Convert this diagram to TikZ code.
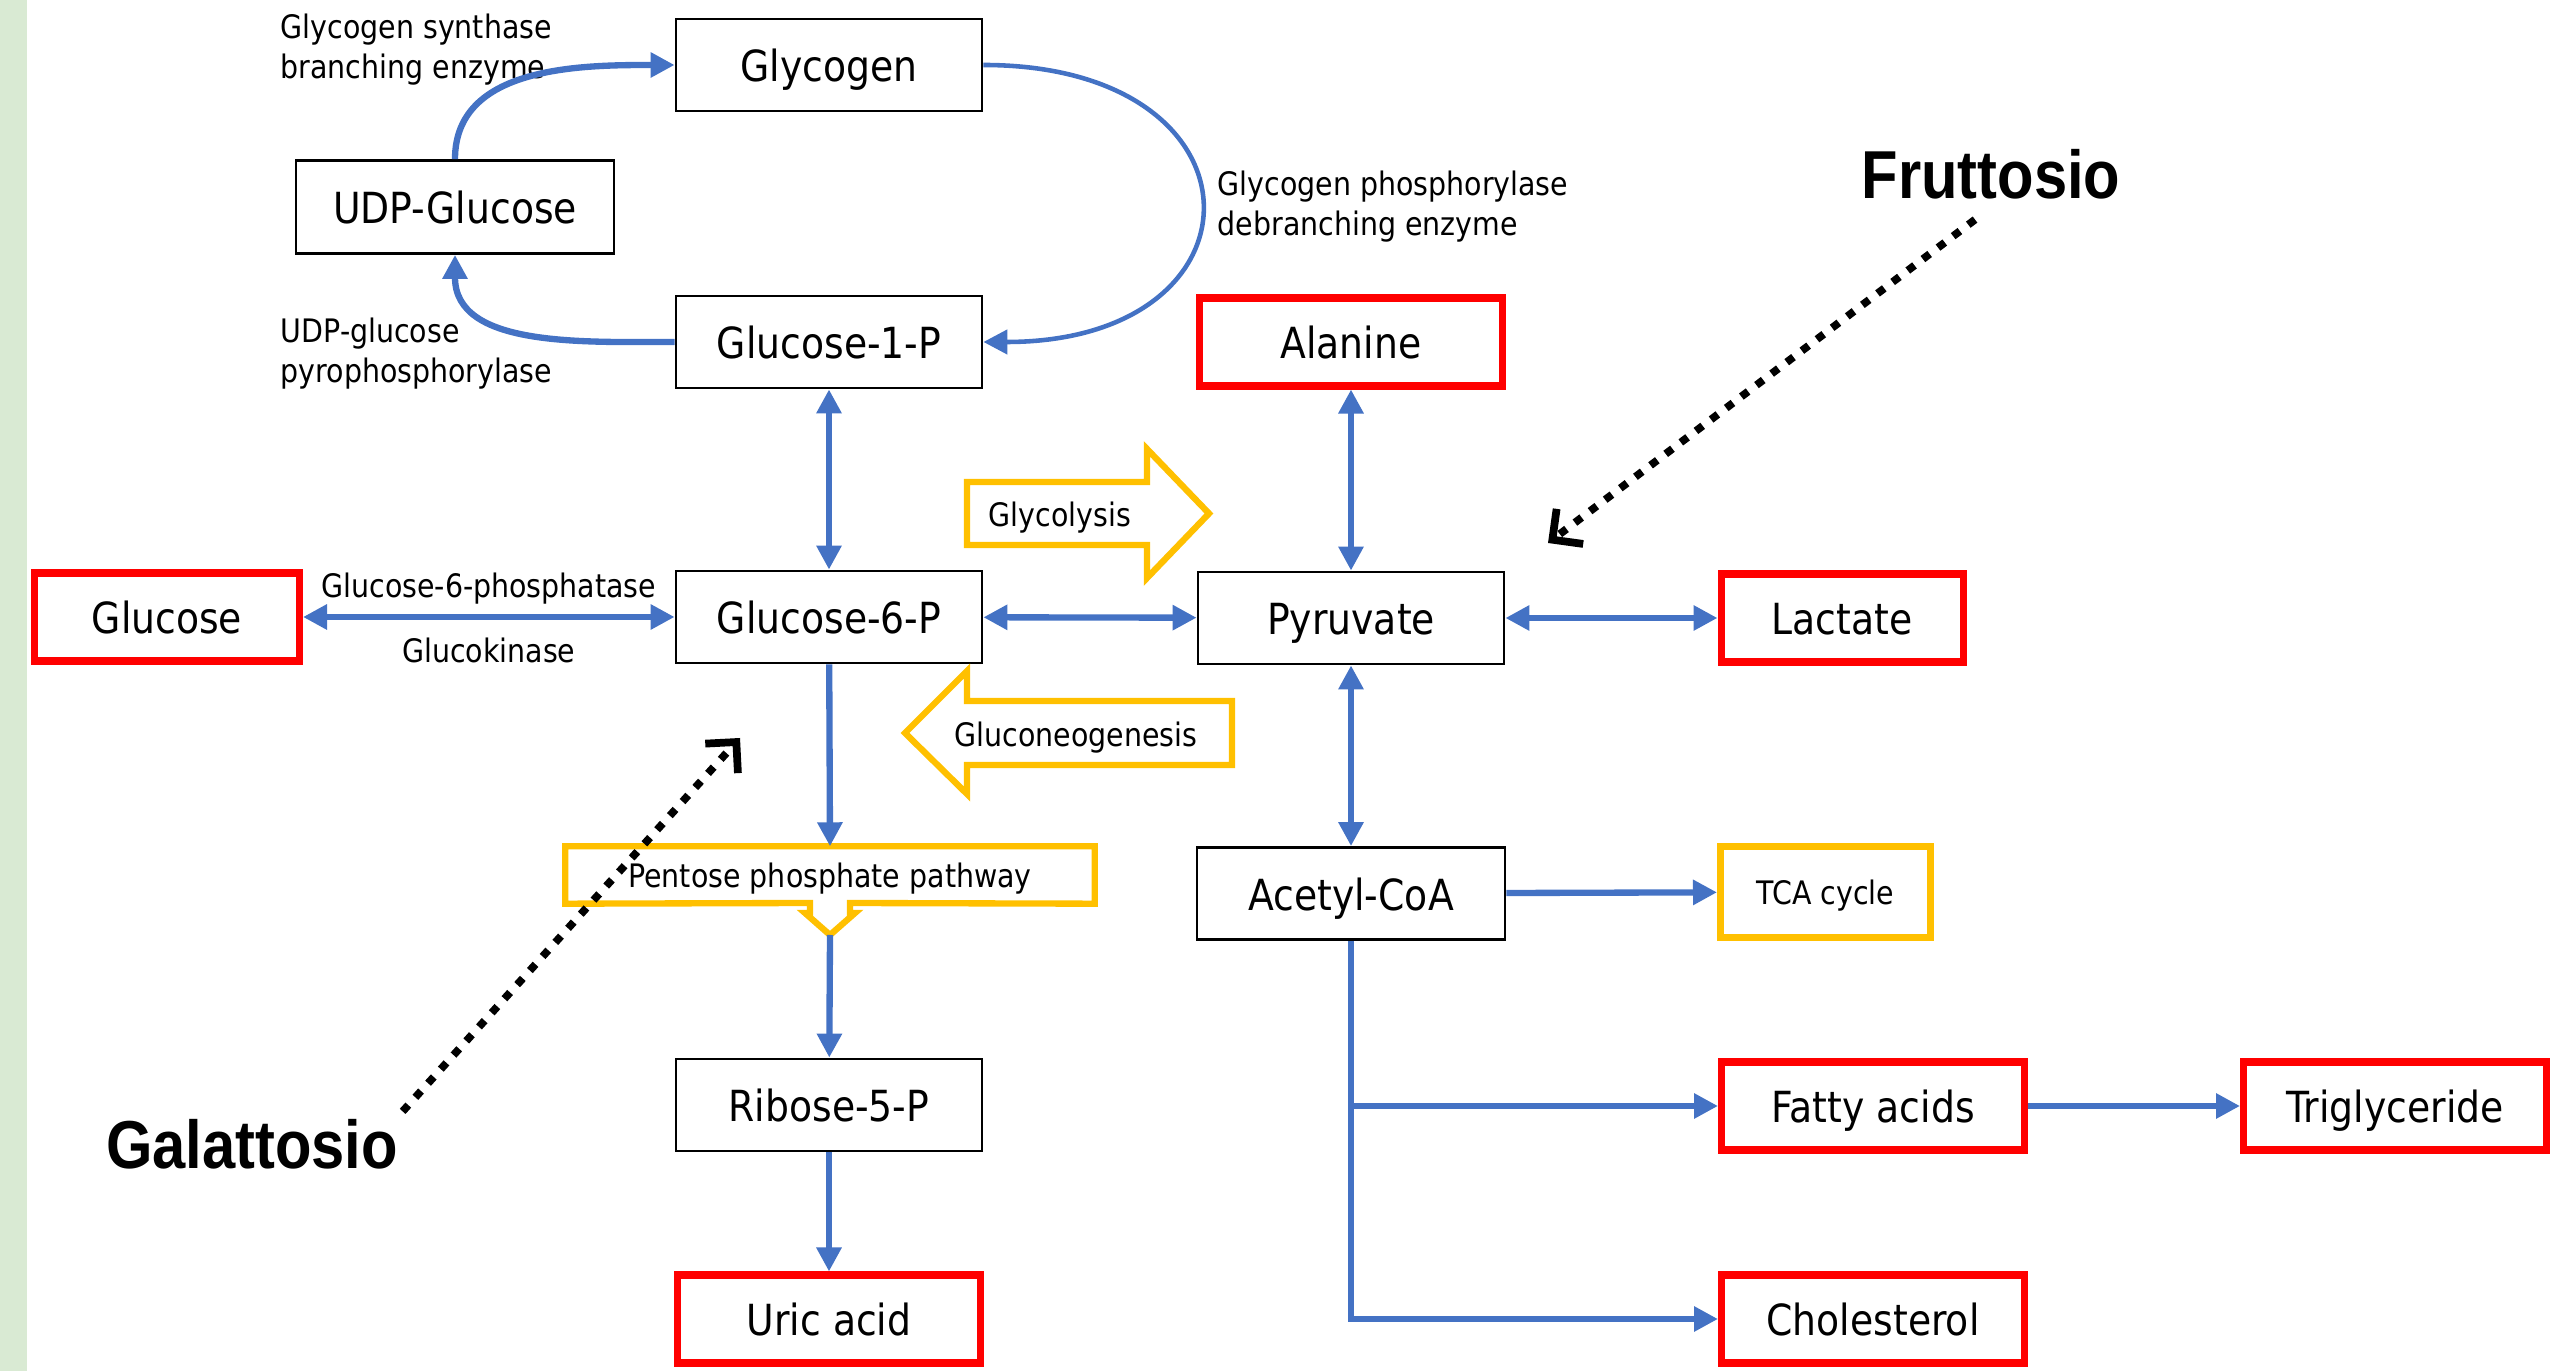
\documentclass[tikz,border=0pt]{standalone}
\usepackage{fontspec}
\setmainfont{DejaVu Sans}[FakeStretch=0.88]
\newfontfamily\sugarfont{Liberation Sans}[FakeStretch=0.88]
\usepackage{tikz}
\usetikzlibrary {arrows.meta}
\definecolor{pathblue}{HTML}{4472C4}
\definecolor{boxred}{HTML}{FF0000}
\definecolor{boxyellow}{HTML}{FFC000}
\definecolor{stripgreen}{HTML}{D9EAD3}

\begin{document}
\begin{tikzpicture}
        %style
        \tikzset{box/.style = {shape=rectangle, draw=black, line width=0.8pt, inner sep=0, minimum width=3.06cm, minimum height=0.92cm, text height=9.6pt, text depth=0pt, font=\fontsize{12.2}{14}\selectfont}}
        \tikzset{redbox/.style = {box, draw=boxred, line width=2pt, minimum width=3.03cm, minimum height=0.88cm}}
        \tikzset{yellowbox/.style = {box, draw=boxyellow, line width=2pt, text height=7.2pt, font=\fontsize{9.2}{11}\selectfont}}
        \tikzset{enzyme/.style = {inner sep=0, align=left, font=\fontsize{9.2}{11.4}\selectfont}}
        \tikzset{label/.style = {enzyme, text height=7.2pt, text depth=0pt}}
        \tikzset{sugarlabel/.style = {inner sep=0, font=\sugarfont\bfseries\fontsize{19.3}{22}\selectfont}}
        \tikzset{flow/.style = {draw=pathblue, line width=1.8pt, -{Triangle[length=2.4mm, width=2.4mm]}}}
        \tikzset{biflow/.style = {flow, {Triangle[length=2.4mm, width=2.4mm]}-{Triangle[length=2.4mm, width=2.4mm]}}}
        \tikzset{bigarrow/.style = {draw=boxyellow, line width=1.8pt, line join=miter}}
        \tikzset{sugar/.style = {line width=2.2pt, dash pattern=on 2.4pt off 3pt, -{Straight Barb[length=2.2mm, width=4.4mm]}}}
        \useasboundingbox (0,0) rectangle (25.52,13.71);
        \fill[stripgreen] (0,0) rectangle (0.27,13.71);
        % glycogen cycle
        \node[box]    (glycogen) at (8.29,13.06) {Glycogen};
        \node[box, minimum width=3.18cm, minimum height=0.93cm] (udp) at (4.55,11.64) {UDP-Glucose};
        \node[box]    (g1p)      at (8.29,10.29) {Glucose-1-P};
        \node[box]    (g6p)      at (8.29,7.54)  {Glucose-6-P};
        \node[redbox, minimum width=2.65cm] (glucose) at (1.67,7.54) {Glucose};
        \node[enzyme] (synthase)     at (2.80,13.21) [anchor=west] {Glycogen synthase\\branching enzyme};
        \node[enzyme] (phosphorylase) at (12.17,11.645) [anchor=west] {Glycogen phosphorylase\\debranching enzyme};
        \node[enzyme] (pyrophos)     at (2.80,10.17) [anchor=west] {UDP-glucose\\pyrophosphorylase};
        % pyruvate
        \node[redbox] (alanine)  at (13.51,10.29) {Alanine};
        \node[box]    (pyruvate) at (13.51,7.53)  {Pyruvate};
        \node[redbox, minimum width=2.42cm] (lactate) at (18.42,7.53) {Lactate};
        \node[box, minimum width=3.08cm]    (acetyl)  at (13.51,4.775) {Acetyl-CoA};
        \node[yellowbox, minimum width=2.10cm, minimum height=0.91cm] (tca) at (18.255,4.79) {TCA cycle};
        \node[redbox] (fatty)        at (18.73,2.65) {Fatty acids};
        \node[redbox] (triglyceride) at (23.95,2.65) {Triglyceride};
        \node[redbox] (cholesterol)  at (18.73,0.52) {Cholesterol};
        % pentose
        \node[label, align=center, minimum width=5.28cm, minimum height=0.56cm] (ppp) at (8.30,4.96) {Pentose phosphate pathway};
        \draw[bigarrow] (ppp.north west) -- (ppp.north east) -- (ppp.south east) -- (8.50,4.68) -- (8.50,4.58) -- (8.55,4.58) -- (8.30,4.36) -- (8.05,4.58) -- (8.10,4.58) -- (8.10,4.68) -- (ppp.south west) -- cycle;
        \coordinate (ppptip) at (8.30,4.36);
        \node[box]    (ribose) at (8.29,2.66) {Ribose-5-P};
        \node[redbox] (uric)   at (8.29,0.52) {Uric acid};
        % yellow arrows
        \draw[bigarrow] (9.67,8.89) -- (11.47,8.89) -- (11.47,9.22) -- (12.09,8.575) -- (11.47,7.93) -- (11.47,8.26) -- (9.67,8.26) -- cycle;
        \node[label] (glycolysis) at (10.60,8.57) {Glycolysis};
        \draw[bigarrow] (12.32,6.70) -- (9.67,6.70) -- (9.67,7.00) -- (9.05,6.38) -- (9.67,5.77) -- (9.67,6.06) -- (12.32,6.06) -- cycle;
        \node[label] (gluconeo) at (10.76,6.37) {Gluconeogenesis};
        % sugars
        \node[sugarlabel] (fruttosio)  at (19.91,11.97) {Fruttosio};
        \node[sugarlabel] (galattosio) at (2.52,2.27)   {Galattosio};
        \coordinate (frutarget) at (15.48,8.28);
        \coordinate (galtarget) at (7.40,6.33);
        % arrows
        \draw[flow] (udp.north) to[out=90, in=180] (glycogen.west);
        \draw[flow, line width=1.3pt] (glycogen.east) .. controls +(2.9,0) and +(2.9,0) .. (g1p.east);
        \draw[flow] (g1p.west) to[out=180, in=-90] (udp.south);
        \draw[biflow] (g1p) to (g6p);
        \draw[biflow] (glucose) to node[label, above=1.6mm] {Glucose-6-phosphatase} node[label, below=1.7mm] {Glucokinase} (g6p);
        \draw[biflow] (g6p) to (pyruvate);
        \draw[biflow] (alanine) to (pyruvate);
        \draw[biflow] (pyruvate) to (lactate);
        \draw[biflow] (pyruvate) to (acetyl);
        \draw[flow] (acetyl) to (tca);
        \draw[flow] (acetyl.south) |- (cholesterol.west);
        \draw[flow] (acetyl.south |- fatty.west) to (fatty.west);
        \draw[flow] (fatty) to (triglyceride);
        \draw[flow] (g6p) to (ppp.north);
        \draw[flow] (ppptip) to (ribose);
        \draw[flow] (ribose) to (uric);
        \draw[sugar] ([xshift=-1.6mm, yshift=-2mm]fruttosio.south) to (frutarget);
        \draw[sugar] ([xshift=0.4mm, yshift=0.7mm]galattosio.north east) to (galtarget);
\end{tikzpicture}
\end{document}
